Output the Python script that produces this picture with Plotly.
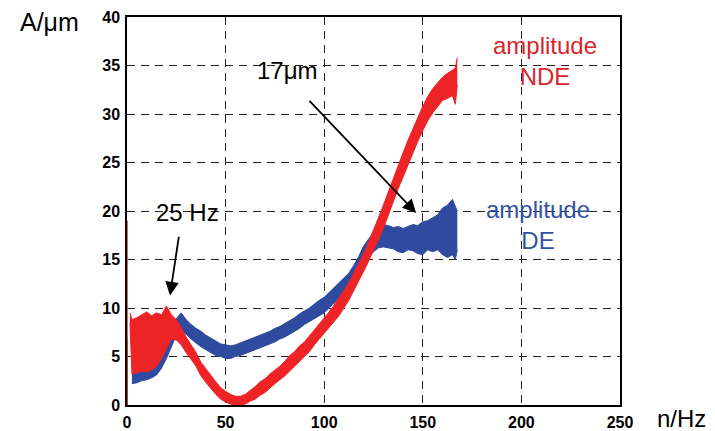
import plotly.graph_objects as go

# ---- data ----
freq_red = [1.5, 2.5, 5, 7.5, 10, 12.5, 15, 17.5, 20, 22.5, 25, 27.5, 30, 32.5, 35, 37.5, 40,
            42.5, 45, 47.5, 50, 52.5, 55, 57.5, 60, 62.5, 65, 67.5, 70, 72.5, 75, 77.5, 80,
            82.5, 85, 87.5, 90, 92.5, 95, 97.5, 100, 102.5, 105, 107.5, 110, 112.5, 115,
            117.5, 120, 122.5, 125, 127.5, 130, 132.5, 135, 137.5, 140, 142.5, 145, 147.5,
            150, 152.5, 155, 157.5, 160, 162.5, 165, 166.5, 167.5]
nde_low = [8.5, 3.2, 3.3, 3.5, 3.4, 3.6, 4.0, 4.8, 5.8, 6.8, 6.7, 6.2, 5.4, 4.7, 4.0, 3.0, 2.3,
           1.7, 1.1, 0.6, 0.3, 0.1, 0.0, 0.0, 0.1, 0.4, 0.6, 1.0, 1.3, 1.8, 2.2, 2.6, 3.0,
           3.5, 4.0, 4.5, 4.9, 5.5, 6.2, 6.8, 7.3, 7.9, 8.5, 9.2, 10.0, 10.8, 11.8,
           12.8, 13.8, 14.8, 16.0, 17.0, 18.2, 19.6, 21.0, 22.3, 23.5, 24.8, 26.0, 27.2,
           28.3, 29.3, 30.1, 30.8, 31.4, 31.6, 31.9, 31.0, 33.0]
nde_high = [9.5, 8.8, 9.0, 9.3, 9.6, 9.2, 9.5, 9.3, 10.2, 9.3, 8.8, 8.0, 7.0, 6.2, 5.4, 4.4, 3.7,
            3.0, 2.4, 1.8, 1.4, 1.1, 0.9, 0.9, 1.1, 1.5, 1.9, 2.4, 2.7, 3.2, 3.6, 4.0, 4.5,
            5.1, 5.5, 6.1, 6.5, 7.1, 7.7, 8.3, 8.9, 9.6, 10.3, 11.0, 11.8, 12.6, 13.6,
            14.6, 15.6, 16.8, 18.0, 19.3, 20.6, 22.0, 23.4, 24.8, 26.0, 27.3, 28.5, 29.6,
            30.8, 31.8, 32.6, 33.2, 33.8, 34.2, 34.5, 34.8, 35.8]

freq_blue = [2.5, 5, 7.5, 10, 12.5, 15, 17.5, 20, 22.5, 25, 27.5, 30, 32.5, 35, 37.5, 40,
             42.5, 45, 47.5, 50, 52.5, 55, 57.5, 60, 62.5, 65, 67.5, 70, 72.5, 75, 77.5, 80,
             82.5, 85, 87.5, 90, 92.5, 95, 97.5, 100, 102.5, 105, 107.5, 110, 112.5, 115,
             117.5, 120, 122.5, 125, 127.5, 130, 132.5, 135, 137.5, 140, 142.5, 145, 147.5,
             150, 152.5, 155, 157.5, 160, 162.5, 165, 166.5, 167.5]
de_low = [2.2, 2.3, 2.5, 2.6, 2.8, 3.1, 3.8, 4.8, 6.0, 7.2, 7.6, 7.3, 6.8, 6.4, 6.0, 5.7,
          5.4, 5.1, 5.0, 4.8, 4.8, 5.0, 5.1, 5.3, 5.5, 5.7, 5.9, 6.1, 6.3, 6.5, 6.8, 7.0,
          7.3, 7.6, 7.9, 8.3, 8.6, 8.9, 9.2, 9.5, 10.0, 10.5, 11.0, 11.4, 12.0, 12.8,
          13.6, 14.5, 15.2, 15.8, 16.2, 16.3, 16.2, 16.1, 15.8, 15.7, 16.0, 15.9, 15.6,
          15.5, 16.0, 15.8, 16.0, 15.5, 15.2, 15.5, 15.0, 16.0]
de_high = [4.0, 3.8, 3.9, 4.0, 4.3, 4.8, 5.8, 7.0, 8.0, 8.9, 9.5, 8.8, 8.3, 7.9, 7.6, 7.2,
           6.9, 6.6, 6.3, 6.2, 6.1, 6.2, 6.4, 6.6, 6.8, 7.0, 7.2, 7.4, 7.6, 7.9, 8.1, 8.4,
           8.7, 9.0, 9.4, 9.7, 10.0, 10.4, 10.8, 11.1, 11.6, 12.1, 12.6, 13.0, 13.6, 14.4,
           15.3, 16.4, 17.1, 17.8, 18.3, 18.6, 18.5, 18.3, 18.4, 18.2, 18.4, 18.6, 18.5,
           18.9, 19.0, 19.3, 19.6, 20.3, 20.6, 21.2, 20.5, 20.0]

spike_x = [0, 0]
nde_spike = [0, 19]
de_spike = [0, 7]

x_ticks = [0, 50, 100, 150, 200, 250]
y_ticks = [0, 5, 10, 15, 20, 25, 30, 35, 40]

RED = "#EE2326"
BLUE = "#2F4B9F"

fig = go.Figure()

# DE (blue) band
fig.add_trace(go.Scatter(x=freq_blue, y=de_low, mode="lines",
                         line=dict(color=BLUE, width=1), hoverinfo="skip", showlegend=False))
fig.add_trace(go.Scatter(x=freq_blue, y=de_high, mode="lines", fill="tonexty",
                         fillcolor=BLUE, line=dict(color=BLUE, width=1), showlegend=False))
fig.add_trace(go.Scatter(x=spike_x, y=de_spike, mode="lines",
                         line=dict(color="#7a2a5a", width=1.5), showlegend=False))

# NDE (red) band
fig.add_trace(go.Scatter(x=freq_red, y=nde_low, mode="lines",
                         line=dict(color=RED, width=1), hoverinfo="skip", showlegend=False))
fig.add_trace(go.Scatter(x=freq_red, y=nde_high, mode="lines", fill="tonexty",
                         fillcolor=RED, line=dict(color=RED, width=1), showlegend=False))
fig.add_trace(go.Scatter(x=spike_x, y=nde_spike, mode="lines",
                         line=dict(color=RED, width=1.5), showlegend=False))

FONT = "Arial, Liberation Sans, sans-serif"
grid = dict(showgrid=True, gridcolor="#222", griddash="8px,6px", gridwidth=1,
            showline=True, linecolor="black", linewidth=1.5, mirror=True,
            zeroline=False, ticks="", automargin=False, layer="below traces",
            tickfont=dict(family=FONT, size=16, color="black", weight="bold"))

fig.update_xaxes(range=[0, 250], tickvals=x_ticks, ticklabelstandoff=2, **grid)
fig.update_yaxes(range=[0, 40], tickvals=y_ticks, ticklabelstandoff=2, **grid)

# plot area in page pixels: x 127..620, y 17..405 (page has 8px body margin)
PX0, PX1, PY0, PY1 = 127, 620, 17, 405


def px(xp):
    return (xp - PX0) / (PX1 - PX0)


def py(yp):
    return (PY1 - yp) / (PY1 - PY0)


annotations = [
    dict(x=146.6, y=19.8, ax=91.8, ay=31.5, xref="x", yref="y", axref="x", ayref="y",
         showarrow=True, arrowhead=2, arrowsize=1.5, arrowwidth=1.8, arrowcolor="black", text=""),
    dict(x=21.8, y=11.3, ax=26.4, ay=17.5, xref="x", yref="y", axref="x", ayref="y",
         showarrow=True, arrowhead=2, arrowsize=1.5, arrowwidth=1.8, arrowcolor="black", text=""),
    dict(x=81.3, y=34.5, xref="x", yref="y", text="17μm", showarrow=False,
         xanchor="center", yanchor="middle",
         font=dict(family=FONT, size=24, color="black")),
    dict(x=30.9, y=19.8, xref="x", yref="y", text="25 Hz", showarrow=False,
         xanchor="center", yanchor="middle",
         font=dict(family=FONT, size=24, color="black")),
    dict(x=212, y=35.5, xref="x", yref="y", text="amplitude<br>NDE", showarrow=False,
         xanchor="center", yanchor="middle",
         font=dict(family=FONT, size=24, color="#D7262C")),
    dict(x=208.4, y=18.6, xref="x", yref="y", text="amplitude<br>DE", showarrow=False,
         xanchor="center", yanchor="middle",
         font=dict(family=FONT, size=24, color="#3352A3")),
    dict(x=px(49), y=py(22), xref="paper", yref="paper", text="A/μm", showarrow=False,
         xanchor="center", yanchor="middle", borderpad=0,
         font=dict(family=FONT, size=25, color="black")),
    dict(x=px(681), y=py(418), xref="paper", yref="paper", text="n/Hz", showarrow=False,
         xanchor="center", yanchor="middle", borderpad=0,
         font=dict(family=FONT, size=24, color="black")),
]

fig.update_layout(
    width=707, height=423,
    margin=dict(l=119, r=95, t=9, b=26, autoexpand=False),
    paper_bgcolor="white", plot_bgcolor="white",
    annotations=annotations,
    showlegend=False,
)

fig.write_html("out.html")
